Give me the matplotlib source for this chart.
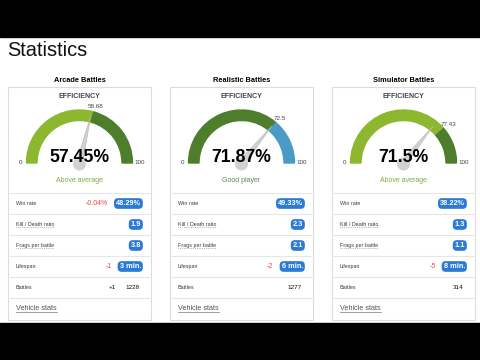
import numpy as np
import matplotlib
matplotlib.use('Agg')
import matplotlib.pyplot as plt
from matplotlib.patches import Rectangle, Wedge, Polygon, Circle

plt.rcParams['font.family'] = ['Liberation Sans', 'DejaVu Sans']

# data
modes = ['Arcade Battles', 'Realistic Battles', 'Simulator Battles']
efficiency = [57.45, 71.87, 71.5]
threshold = [58.68, 72.5, 77.43]
rating = ['Above average', 'Good player', 'Above average']

row_names = ['Win rate', 'Kill / Death ratio', 'Frags per battle', 'Lifespan', 'Battles']
win_rate = ['48.29%', '49.33%', '38.22%']
win_delta = ['-0.04%', '', '']
kill_death = ['1.9', '2.3', '1.3']
frags = ['3.8', '2.1', '1.1']
lifespan = ['3 min.', '6 min.', '8 min.']
life_delta = ['-1', '-2', '-5']
battles = [1228, 1277, 314]
battle_delta = ['+1', '', '']

low_color = ['#8cb72f', '#4e7e2c', '#8cb72f']
high_color = ['#4e7e2c', '#4a9ac6', '#4e7e2c']
rating_color = ['#7ea93e', '#5e875e', '#7ea93e']
badge_blue = '#2b7bd6'

fig = plt.figure(figsize=(4.8, 3.6), dpi=100)
ax = fig.add_axes([0, 0, 1, 1])
ax.set_xlim(0, 480)
ax.set_ylim(360, 0)
ax.axis('off')

# black bars of the video frame
ax.add_patch(Rectangle((0, 0), 480, 37, color='black'))
ax.add_patch(Rectangle((0, 323), 480, 37, color='black'))

ax.text(7, 50.5, 'Statistics', fontsize=14.4, ha='left', va='center', color='#111111')

lefts = [8, 170, 332]
width = 143
dotted = []
solid = []

for i in range(3):
    left = lefts[i]
    cx, cy = left + width / 2, 163

    ax.text(cx, 80, modes[i], fontsize=5.3, fontweight='bold', ha='center', va='center')
    ax.add_patch(Rectangle((left, 86.5), width, 233, fc='white', ec='#dcdcdc', lw=0.8))
    ax.text(cx, 97, 'EFFICIENCY', fontsize=5, fontweight='bold', color='#3a4450',
            ha='center', va='center')

    # gauge arc, y axis is flipped so the angles are negative
    a_thr = 180 - threshold[i] * 1.8
    ax.add_patch(Wedge((cx, cy), 53, -180, -a_thr, width=10.5, color=low_color[i]))
    ax.add_patch(Wedge((cx, cy), 53, -a_thr, 0, width=10.5, color=high_color[i]))

    ax.text(cx - 59, cy, '0', fontsize=4.5, color='#444444', ha='center', va='center')
    ax.text(cx + 60, cy, '100', fontsize=4.5, color='#444444', ha='center', va='center')
    t = np.radians(a_thr)
    ax.text(cx + 59 * np.cos(t), cy - 59 * np.sin(t), str(threshold[i]), fontsize=4.5,
            color='#444444', ha='center', va='center')

    # needle
    a = np.radians(180 - efficiency[i] * 1.8)
    tip = (cx + 48 * np.cos(a), cy - 48 * np.sin(a))
    px, py = 3.2 * np.sin(a), 3.2 * np.cos(a)
    ax.add_patch(Polygon([(cx - px, cy - py), tip, (cx + px, cy + py)],
                         fc='#d2d2d2', ec='#b0b0b0', lw=0.4, zorder=3))
    ax.add_patch(Circle((cx, cy + 1), 6.5, fc='#d2d2d2', ec='none', zorder=3))

    ax.text(cx, 157, f'{efficiency[i]}%', fontsize=12.7, fontweight='bold',
            ha='center', va='center', zorder=5)
    ax.text(cx, 181, rating[i], fontsize=5, color=rating_color[i], ha='center', va='center')

    # rows
    for k in range(6):
        ax.plot([left, left + width], [193 + 21 * k] * 2, color='#e6e6e6', lw=0.8)

    badges = [win_rate[i], kill_death[i], frags[i], lifespan[i]]
    deltas = [win_delta[i], '', '', life_delta[i]]
    for k, name in enumerate(row_names):
        y = 203.5 + 21 * k
        lab = ax.text(left + 8, y, name, fontsize=3.9, color='#3a3a3a', ha='left', va='center')
        if k in (1, 2):
            dotted.append(lab)
        if k < 4:
            b = ax.text(left + 133, y, badges[k], fontsize=5.3, fontweight='bold', color='white',
                        ha='right', va='center',
                        bbox=dict(boxstyle='round,pad=0.25,rounding_size=0.55',
                                  fc=badge_blue, ec='none'))
            if deltas[k]:
                ax.annotate(deltas[k], xy=(0, 0.5), xycoords=b, xytext=(-8, 0),
                            textcoords='offset pixels', fontsize=5, color='#e8474a',
                            ha='right', va='center')
        else:
            b = ax.text(left + 132, y, str(battles[i]), fontsize=4.6, color='#111111',
                        ha='right', va='center')
            if battle_delta[i]:
                ax.annotate(battle_delta[i], xy=(0, 0.5), xycoords=b, xytext=(-10, 0),
                            textcoords='offset pixels', fontsize=4.6, color='#111111',
                            ha='right', va='center')

    vs = ax.text(left + 8, 309, 'Vehicle stats', fontsize=5.2, color='#555555',
                 ha='left', va='center')
    solid.append(vs)

# underlines need the text extents
fig.canvas.draw()
renderer = fig.canvas.get_renderer()
inv = ax.transData.inverted()
for txt, ls in [(t_, ':') for t_ in dotted] + [(t_, '-') for t_ in solid]:
    bb = txt.get_window_extent(renderer)
    (x0, y0), (x1, y1) = inv.transform([[bb.x0, bb.y0], [bb.x1, bb.y1]])
    ax.plot([x0, x1], [y0 - 0.3, y0 - 0.3], color='#777777', lw=0.5, ls=ls)

fig.savefig('out.png', dpi=100)
